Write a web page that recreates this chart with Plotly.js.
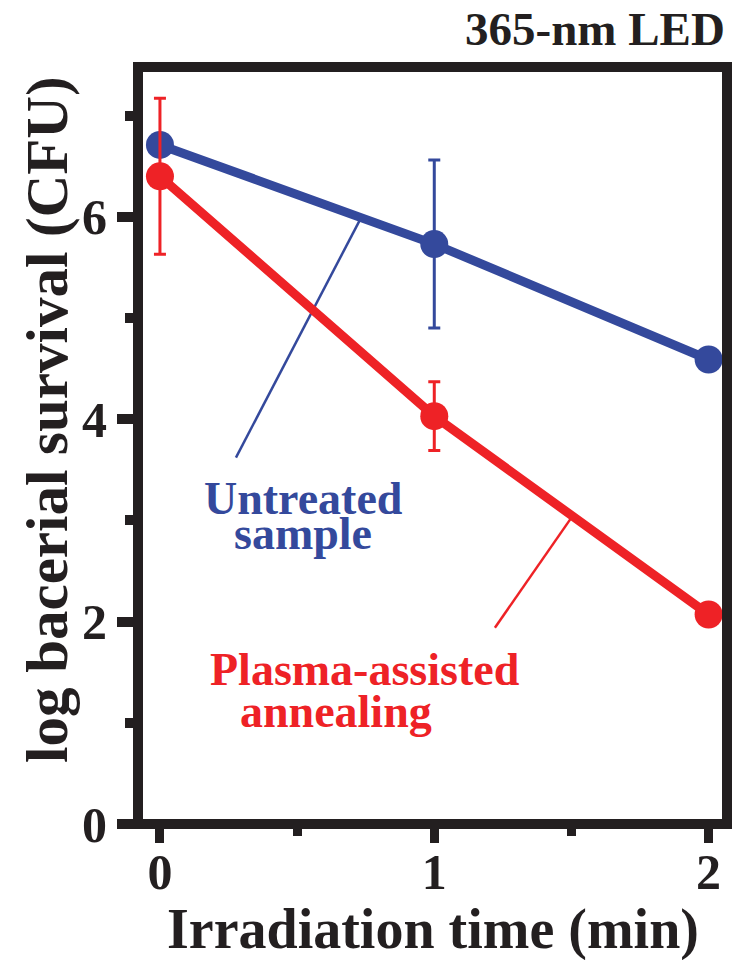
<!DOCTYPE html>
<html>
<head>
<meta charset="utf-8">
<script src="https://cdn.plot.ly/plotly-3.0.1.min.js"></script>
<style>html,body{margin:0;padding:0;background:#fff;}</style>
</head>
<body>
<div id="chart" style="width:736px;height:960px;"></div>
<script>
// ---- data ----
var timeMin = [0, 1, 2];
var untreated = [6.71, 5.73, 4.59];
var untreatedErr = [null, 0.83, null];
var plasma = [6.40, 4.03, 2.07];
var plasmaErr = [0.77, 0.34, null];
var xTicks = [0, 1, 2];
var yTicks = [0, 2, 4, 6];
// leader lines for labels (data coords): [x0, y0, x1, y1]
var untreatedLeader = [0.729, 5.97, 0.277, 3.62];
var plasmaLeader = [1.498, 3.02, 1.221, 1.94];

var BLUE = '#34499c';
var RED = '#ee2226';
var INK = '#231f20';
var FONT = 'Liberation Serif, Times New Roman, serif';

var traces = [
  {
    x: timeMin, y: untreated, type: 'scatter', mode: 'lines+markers',
    name: 'Untreated sample',
    line: {color: BLUE, width: 9},
    marker: {color: BLUE, size: 28},
    error_y: {type: 'data', array: untreatedErr, visible: true, color: BLUE, thickness: 3, width: 6}
  },
  {
    x: timeMin, y: plasma, type: 'scatter', mode: 'lines+markers',
    name: 'Plasma-assisted annealing',
    line: {color: RED, width: 9},
    marker: {color: RED, size: 28},
    error_y: {type: 'data', array: plasmaErr, visible: true, color: RED, thickness: 3, width: 6}
  }
];

var layout = {
  width: 736, height: 960,
  margin: {l: 138, r: 9, t: 67, b: 136},
  paper_bgcolor: '#ffffff',
  plot_bgcolor: 'rgba(0,0,0,0)',
  showlegend: false,
  font: {family: FONT, color: INK, weight: 700},
  xaxis: {
    range: [-0.08, 2.067],
    tickmode: 'array', tickvals: xTicks, ticktext: xTicks.map(String),
    ticks: 'outside', ticklen: 18, tickwidth: 9, tickcolor: INK,
    ticklabelstandoff: -14,
    minor: {dtick: 0.5, tick0: 0, ticks: 'outside', ticklen: 11, tickwidth: 9, tickcolor: INK},
    showgrid: false, zeroline: false, showline: false,
    tickfont: {family: FONT, size: 50, color: INK, weight: 700}
  },
  yaxis: {
    range: [0, 7.48],
    tickmode: 'array', tickvals: yTicks, ticktext: yTicks.map(String),
    ticks: 'outside', ticklen: 20, tickwidth: 10, tickcolor: INK,
    minor: {dtick: 1, tick0: 0, ticks: 'outside', ticklen: 12, tickwidth: 10, tickcolor: INK},
    showgrid: false, zeroline: false, showline: false,
    tickfont: {family: FONT, size: 50, color: INK, weight: 700}
  },
  shapes: [
    {type: 'rect', xref: 'paper', yref: 'paper', x0: 0, x1: 1, y0: 0, y1: 1,
     line: {color: INK, width: 10}, layer: 'above'},
    {type: 'line', xref: 'x', yref: 'y', layer: 'below',
     x0: untreatedLeader[0], y0: untreatedLeader[1], x1: untreatedLeader[2], y1: untreatedLeader[3],
     line: {color: BLUE, width: 2.5}},
    {type: 'line', xref: 'x', yref: 'y', layer: 'below',
     x0: plasmaLeader[0], y0: plasmaLeader[1], x1: plasmaLeader[2], y1: plasmaLeader[3],
     line: {color: RED, width: 2.5}}
  ],
  annotations: [
    {text: '365-nm LED', xref: 'paper', yref: 'paper', x: 1.0, y: 1.05,
     xanchor: 'right', yanchor: 'middle', showarrow: false,
     font: {family: FONT, size: 47, color: INK, weight: 700}},
    {text: 'Irradiation time (min)', xref: 'paper', yref: 'paper', x: 0.5, y: -0.14,
     xanchor: 'center', yanchor: 'middle', showarrow: false,
     font: {family: FONT, size: 56, color: INK, weight: 700}},
    {text: 'log bacerial survival (CFU)', xref: 'paper', yref: 'paper', x: -0.1545, y: 0.535,
     xanchor: 'center', yanchor: 'middle', textangle: -90, showarrow: false,
     font: {family: FONT, size: 59, color: INK, weight: 700}},
    {text: 'Untreated', xref: 'x', yref: 'y', x: 0.525, y: 3.22,
     xanchor: 'center', yanchor: 'middle', showarrow: false,
     font: {family: FONT, size: 46, color: BLUE, weight: 700}},
    {text: 'sample', xref: 'x', yref: 'y', x: 0.52, y: 2.87,
     xanchor: 'center', yanchor: 'middle', showarrow: false,
     font: {family: FONT, size: 46, color: BLUE, weight: 700}},
    {text: 'Plasma-assisted', xref: 'x', yref: 'y', x: 0.747, y: 1.53,
     xanchor: 'center', yanchor: 'middle', showarrow: false,
     font: {family: FONT, size: 46, color: RED, weight: 700}},
    {text: 'annealing', xref: 'x', yref: 'y', x: 0.643, y: 1.11,
     xanchor: 'center', yanchor: 'middle', showarrow: false,
     font: {family: FONT, size: 46, color: RED, weight: 700}}
  ]
};

Plotly.newPlot('chart', traces, layout, {displayModeBar: false, staticPlot: true});
</script>
</body>
</html>
